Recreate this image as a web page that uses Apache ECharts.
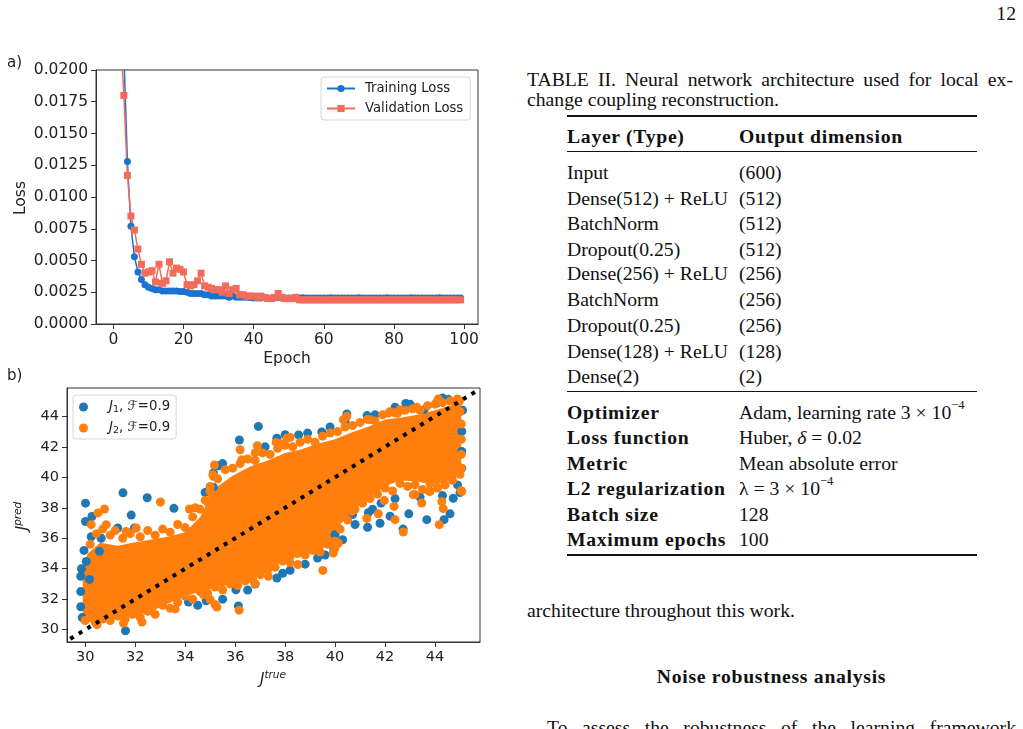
<!DOCTYPE html>
<html>
<head>
<meta charset="utf-8">
<script src="https://cdn.jsdelivr.net/npm/echarts@6.0.0/dist/echarts.min.js"></script>
<style>
  html, body { margin: 0; padding: 0; background: #fff; }
  body { width: 1023px; height: 729px; overflow: hidden; position: relative; }
  #chart { position: absolute; left: 0; top: 0; width: 500px; height: 729px; }
  .tx { position: absolute; font-family: 'Liberation Serif', serif; font-size: 19.7px; line-height: 20px; color: #111; white-space: nowrap; }
  .b { font-weight: bold; letter-spacing: 0.7px; }
  .just { text-align: justify; text-align-last: justify; }
  .rule { position: absolute; left: 567px; width: 410px; background: #111; }
  sup { font-size: 12.5px; line-height: 0; position: relative; top: -2px; }
</style>
</head>
<body>
<div id="chart"></div>

<div class="tx" style="right: 7px; top: 3px;">12</div>

<div class="tx just" style="left: 527px; top: 69px; width: 486px;">TABLE II. Neural network architecture used for local ex-</div>
<div class="tx" style="left: 527px; top: 89px;">change coupling reconstruction.</div>

<div class="rule" style="top: 115px; height: 2px;"></div>
<div class="tx b" style="left: 567px; top: 126px;">Layer (Type)</div>
<div class="tx b" style="left: 739px; top: 126px;">Output dimension</div>
<div class="rule" style="top: 151px; height: 1px;"></div>

<div class="tx" style="left: 567px; top: 162px;">Input</div>
<div class="tx" style="left: 739px; top: 162px;">(600)</div>
<div class="tx" style="left: 567px; top: 188px;">Dense(512) + ReLU</div>
<div class="tx" style="left: 739px; top: 188px;">(512)</div>
<div class="tx" style="left: 567px; top: 213px;">BatchNorm</div>
<div class="tx" style="left: 739px; top: 213px;">(512)</div>
<div class="tx" style="left: 567px; top: 239px;">Dropout(0.25)</div>
<div class="tx" style="left: 739px; top: 239px;">(512)</div>
<div class="tx" style="left: 567px; top: 263px;">Dense(256) + ReLU</div>
<div class="tx" style="left: 739px; top: 263px;">(256)</div>
<div class="tx" style="left: 567px; top: 289px;">BatchNorm</div>
<div class="tx" style="left: 739px; top: 289px;">(256)</div>
<div class="tx" style="left: 567px; top: 315px;">Dropout(0.25)</div>
<div class="tx" style="left: 739px; top: 315px;">(256)</div>
<div class="tx" style="left: 567px; top: 341px;">Dense(128) + ReLU</div>
<div class="tx" style="left: 739px; top: 341px;">(128)</div>
<div class="tx" style="left: 567px; top: 366px;">Dense(2)</div>
<div class="tx" style="left: 739px; top: 366px;">(2)</div>
<div class="rule" style="top: 391px; height: 1px;"></div>

<div class="tx b" style="left: 567px; top: 402px;">Optimizer</div>
<div class="tx" style="left: 739px; top: 402px;">Adam, learning rate 3 &times; 10<sup>&minus;4</sup></div>
<div class="tx b" style="left: 567px; top: 427px;">Loss function</div>
<div class="tx" style="left: 739px; top: 427px;">Huber, <i>&delta;</i> = 0.02</div>
<div class="tx b" style="left: 567px; top: 453px;">Metric</div>
<div class="tx" style="left: 739px; top: 453px;">Mean absolute error</div>
<div class="tx b" style="left: 567px; top: 478px;">L2 regularization</div>
<div class="tx" style="left: 739px; top: 478px;">&lambda; = 3 &times; 10<sup>&minus;4</sup></div>
<div class="tx b" style="left: 567px; top: 504px;">Batch size</div>
<div class="tx" style="left: 739px; top: 504px;">128</div>
<div class="tx b" style="left: 567px; top: 529px;">Maximum epochs</div>
<div class="tx" style="left: 739px; top: 529px;">100</div>
<div class="rule" style="top: 554px; height: 2px;"></div>

<div class="tx" style="left: 527px; top: 600px;">architecture throughout this work.</div>
<div class="tx b" style="left: 640px; top: 666px; width: 263px; text-align: center;">Noise robustness analysis</div>
<div class="tx just" style="left: 547px; top: 717px; width: 469px;">To assess the robustness of the learning framework</div>

<script>
// a) training history, epochs 0..99
const epochs = Array.from({ length: 100 }, (_, i) => i);
const trainLoss = [
  0.0850, 0.0480, 0.0310, 0.0212, 0.0128, 0.0077, 0.0053, 0.0041, 0.0035, 0.0031,
  0.0029, 0.0028, 0.0027, 0.0027, 0.0026, 0.0026, 0.0026, 0.0026, 0.0026, 0.00255,
  0.00255, 0.0025, 0.0024, 0.0024, 0.0024, 0.0024, 0.0023, 0.0023, 0.0022, 0.0022,
  0.0022, 0.0022, 0.0022, 0.0021, 0.0022, 0.0021, 0.0021, 0.0021, 0.0021, 0.00208,
  0.00205, 0.00205, 0.00205, 0.00206, 0.00205, 0.00205, 0.00205, 0.00206, 0.00205, 0.00205,
  0.00205, 0.00205, 0.00205, 0.00205, 0.00206, 0.00205, 0.00205, 0.00205, 0.00205, 0.00205,
  0.00205, 0.00205, 0.00206, 0.00205, 0.00205, 0.00205, 0.00205, 0.00205, 0.00205, 0.00205,
  0.00206, 0.00205, 0.00205, 0.00205, 0.00205, 0.00205, 0.00205, 0.00205, 0.00206, 0.00205,
  0.00205, 0.00205, 0.00205, 0.00205, 0.00205, 0.00206, 0.00205, 0.00205, 0.00205, 0.00205,
  0.00205, 0.00205, 0.00205, 0.00206, 0.00205, 0.00205, 0.00205, 0.00205, 0.00205, 0.00205,
];
const valLoss = [
  0.1200, 0.0450, 0.0228, 0.0180, 0.0117, 0.0085, 0.0074, 0.0059, 0.0047, 0.0040,
  0.0041, 0.0042, 0.0033, 0.0047, 0.0032, 0.0034, 0.0049, 0.0040, 0.0044, 0.0043,
  0.0041, 0.0031, 0.0030, 0.0031, 0.0034, 0.0040, 0.0030, 0.0029, 0.0028, 0.0027,
  0.0027, 0.0025, 0.0030, 0.0024, 0.0027, 0.0028, 0.0023, 0.0023, 0.0022, 0.0022,
  0.0022, 0.0021, 0.0022, 0.0021, 0.0020, 0.0020, 0.0021, 0.0024, 0.0021, 0.0020,
  0.0020, 0.0020, 0.0021, 0.0019, 0.0019, 0.0019, 0.0019, 0.0019, 0.0019, 0.0019,
  0.0019, 0.0019, 0.0019, 0.0019, 0.0019, 0.0019, 0.0019, 0.0019, 0.0019, 0.0019,
  0.0019, 0.0019, 0.0019, 0.0019, 0.0019, 0.0019, 0.0019, 0.0019, 0.0019, 0.0019,
  0.0019, 0.0019, 0.0019, 0.0019, 0.0019, 0.0019, 0.0019, 0.0019, 0.0019, 0.0019,
  0.0019, 0.0019, 0.0019, 0.0019, 0.0019, 0.0019, 0.0019, 0.0019, 0.0019, 0.0019,
];
const epochTicks = [0, 20, 40, 60, 80, 100];

// b) predicted vs true couplings
const jTicks = [30, 32, 34, 36, 38, 40, 42, 44];
const diagonal = [[29.4, 29.4], [45.6, 45.6]];

// outline of the dense orange cloud (upper edge and lower edge, left to right)
const cloudUpper = [
  [29.9, 34.2], [30.1, 35.0], [30.6, 35.7], [31.3, 35.5], [31.9, 35.7], [32.6, 35.9],
  [33.3, 36.1], [34.0, 36.4], [34.6, 37.4], [35.0, 38.7], [35.3, 39.4], [35.9, 40.1],
  [36.6, 40.7], [37.3, 41.1], [38.0, 41.6], [38.6, 41.8], [39.3, 42.2], [40.0, 42.5],
  [40.6, 42.9], [41.3, 43.3], [42.0, 43.8], [42.6, 43.9], [43.3, 44.1], [44.0, 44.4],
  [44.6, 44.7], [45.05, 44.8],
];
const cloudLower = [
  [29.9, 30.7], [30.6, 30.65], [31.3, 30.8], [31.9, 30.9], [32.6, 31.15], [33.3, 31.7],
  [34.0, 32.2], [34.6, 32.5], [35.3, 32.8], [35.9, 33.0], [36.6, 33.3], [37.3, 33.9],
  [38.0, 34.6], [38.6, 35.0], [39.3, 35.2], [40.0, 35.7], [40.1, 36.7], [40.7, 37.8],
  [41.3, 38.6], [42.0, 39.4], [42.6, 39.8], [43.3, 39.7], [44.0, 39.5], [44.6, 39.8],
  [45.05, 40.2],
];
const j1Points = [
  [30.01, 38.3], [30.01, 37.1], [30.27, 37.43], [31.51, 38.98], [32.48, 38.66], [31.84, 37.52],
  [33.55, 37.96], [31.61, 29.93], [30.24, 36.1], [30.64, 36.0], [31.3, 36.67], [31.97, 36.67],
  [30.04, 34.48], [30.17, 33.3], [30.57, 35.14], [29.88, 30.79],
  [29.82, 31.5], [29.82, 32.5], [29.82, 33.5], [29.85, 34.0], [29.95, 35.2],
  [35.13, 40.28], [35.33, 40.75], [35.13, 39.35], [36.17, 42.45], [36.93, 43.34], [37.67, 42.57],
  [38.0, 42.8], [38.54, 42.78], [39.47, 42.98], [40.47, 44.15], [41.28, 44.05], [42.83, 44.85],
  [44.53, 45.12], [44.07, 44.87], [43.56, 44.44],
  [34.8, 39.0], [35.5, 40.9], [37.2, 42.0], [38.9, 42.9], [39.8, 43.3], [40.4, 43.7],
  [41.6, 44.1], [42.4, 44.6], [43.0, 44.8], [44.3, 45.2], [45.1, 44.4],
  [36.13, 31.55], [34.13, 31.81], [34.84, 31.89], [36.03, 32.62], [37.67, 33.39], [38.2, 33.9],
  [39.3, 34.7], [39.95, 35.25], [40.0, 36.23], [36.8, 33.0],
  [34.5, 31.6], [35.5, 32.0], [36.5, 32.6], [37.9, 33.7], [38.8, 34.3], [39.6, 34.9],
  [40.3, 35.9], [40.8, 36.9], [41.5, 37.9], [42.4, 38.6], [43.4, 38.7], [44.3, 38.8],
  [44.6, 37.6], [45.0, 39.0],
  [41.3, 36.72], [41.8, 36.98], [42.72, 36.6], [42.95, 37.6], [43.67, 37.22], [44.36, 37.22],
  [44.73, 38.62], [44.9, 39.5], [40.7, 37.55], [41.84, 38.3], [42.2, 37.45], [41.33, 37.67],
  [45.07, 43.01], [45.07, 41.7], [45.07, 40.6],
];
const j2Points = [
  [33.01, 38.38], [30.77, 37.92], [30.51, 37.66], [30.24, 36.89], [30.84, 36.89], [34.17, 37.92],
  [34.4, 38.0], [31.64, 36.45], [32.04, 36.67], [35.08, 38.86], [35.11, 40.17], [35.17, 40.8],
  [35.13, 40.06], [36.2, 41.81], [36.27, 41.15], [36.8, 41.6], [36.89, 42.07], [37.64, 42.29],
  [38.07, 42.57], [38.2, 42.62], [37.8, 42.2], [40.33, 43.78], [40.47, 44.0], [41.4, 43.78],
  [42.13, 44.21], [42.4, 44.23], [42.6, 44.43], [43.27, 44.6], [44.09, 44.98], [44.13, 45.14],
  [44.9, 45.14], [44.97, 44.98],
  [45.07, 39.08], [45.04, 39.12], [44.17, 36.89], [42.73, 36.41], [42.4, 37.22], [42.36, 38.09],
  [43.13, 38.86], [43.2, 38.86], [43.8, 39.08], [43.77, 39.08], [43.47, 38.31], [44.33, 37.94],
  [44.27, 38.4], [41.73, 37.6], [41.27, 37.3], [41.97, 38.47], [40.67, 37.77], [40.13, 35.69],
  [39.93, 35.03], [40.0, 35.36], [39.51, 33.89], [38.51, 34.27], [38.2, 34.8], [37.33, 33.5],
  [36.8, 33.02], [36.16, 31.28], [35.27, 31.49], [35.2, 31.64], [35.0, 31.97], [34.73, 32.3],
  [34.6, 32.52], [34.17, 33.06], [33.6, 31.36], [33.0, 31.86], [32.27, 30.5], [31.53, 30.43],
  [30.47, 30.33], [31.0, 31.31], [34.93, 38.3], [35.0, 39.08],
];
// orange dots sitting on the ragged rim of the cloud
const j2Rim = [
  [30.2, 35.6], [30.45, 36.3], [30.7, 36.6], [31.0, 36.2], [31.2, 36.5], [31.5, 36.0],
  [31.8, 36.3], [32.2, 36.1], [32.5, 36.5], [32.8, 36.2], [33.1, 36.6], [33.4, 36.4],
  [33.7, 36.9], [34.0, 36.7], [34.3, 37.4], [34.6, 37.9], [34.8, 38.5], [35.0, 39.4],
  [35.3, 39.9], [35.6, 40.5], [35.9, 40.6], [36.2, 40.9], [36.5, 41.2], [36.8, 41.1],
  [37.1, 41.6], [37.4, 41.5], [37.7, 41.9], [38.0, 42.1], [38.3, 42.0], [38.6, 42.3],
  [38.9, 42.5], [39.2, 42.3], [39.5, 42.7], [39.8, 42.9], [40.1, 43.0], [40.4, 43.3],
  [40.7, 43.4], [41.0, 43.6], [41.3, 43.8], [41.6, 43.7], [41.9, 44.1], [42.2, 44.3],
  [42.5, 44.2], [42.8, 44.4], [43.1, 44.5], [43.4, 44.4], [43.7, 44.7], [44.0, 44.8],
  [44.3, 44.9], [44.6, 45.0], [44.85, 44.7], [45.0, 44.3], [45.05, 43.5], [45.05, 42.5],
  [45.05, 41.5], [45.05, 40.6],
  [30.0, 30.6], [30.2, 30.8], [30.4, 30.5], [30.7, 30.7], [31.0, 30.6], [31.3, 30.9],
  [31.6, 30.7], [31.9, 31.0], [32.2, 30.8], [32.5, 31.2], [32.8, 31.0], [33.1, 31.6],
  [33.4, 31.4], [33.7, 31.8], [34.0, 32.2], [34.3, 32.0], [34.6, 32.5], [34.9, 32.4],
  [35.2, 32.8], [35.5, 32.6], [35.8, 33.0], [36.1, 32.9], [36.4, 33.2], [36.7, 33.3],
  [37.0, 33.6], [37.3, 33.9], [37.6, 34.1], [37.9, 34.5], [38.2, 34.4], [38.5, 35.0],
  [38.8, 34.9], [39.1, 35.2], [39.4, 35.1], [39.7, 35.6], [40.0, 35.8], [40.2, 36.6],
  [40.5, 37.2], [40.8, 37.9], [41.1, 38.3], [41.4, 38.6], [41.7, 38.9], [42.0, 39.3],
  [42.3, 39.1], [42.6, 39.6], [42.9, 39.4], [43.2, 39.5], [43.5, 39.2], [43.8, 39.6],
  [44.1, 39.3], [44.4, 39.5], [44.7, 39.8], [45.0, 40.2],
];

const lossBlue = '#1874d0';
const lossRed = '#f46b5c';
const tabBlue = '#1f77b4';
const tabOrange = '#ff7f0e';
const ink = '#222';
const font = 'DejaVu Sans';

const chart = echarts.init(document.getElementById('chart'), null, { renderer: 'canvas' });

function boxAxis(extra) {
  return {
    type: 'value',
    scale: true,
    axisLine: { show: true, onZero: false, lineStyle: { color: '#333', width: 1 } },
    splitLine: { show: false },
    ...extra,
  };
}

const legendBox = {
  orient: 'vertical',
  backgroundColor: 'rgba(255,255,255,0.8)',
  borderColor: '#d6d6d6',
  borderWidth: 1,
  borderRadius: 3,
};

// mathtext-like pieces for the J legend: italic J, lowered subscript, script F
const mathRich = {
  g: { width: 7 },
  i: { fontStyle: 'italic', fontSize: 13.3, color: ink },
  s: { fontSize: 9.5, color: ink, verticalAlign: 'top', padding: [6, 0, 0, 0] },
};

const option = {
  animation: false,
  textStyle: { fontFamily: font },
  grid: [
    { left: 96, top: 70, width: 382, height: 254, show: true, borderColor: '#333', borderWidth: 1 },
    { left: 67, top: 388, width: 413, height: 254, show: true, borderColor: '#333', borderWidth: 1 },
  ],
  xAxis: [
    boxAxis({
      gridIndex: 0, min: -4.95, max: 103.95,
      axisTick: { show: true, length: 5, lineStyle: { color: '#333' }, customValues: epochTicks },
      axisLabel: { customValues: epochTicks, fontSize: 15.5, color: ink, margin: 8 },
    }),
    boxAxis({
      gridIndex: 1, min: 29.27, max: 45.8,
      axisTick: { show: true, length: 5, lineStyle: { color: '#333' }, customValues: jTicks },
      axisLabel: { customValues: jTicks, fontSize: 14.5, color: ink, margin: 8 },
    }),
  ],
  yAxis: [
    boxAxis({
      gridIndex: 0, min: 0, max: 0.02, interval: 0.0025,
      axisTick: { show: true, length: 5, lineStyle: { color: '#333' } },
      axisLabel: { fontSize: 15.5, color: ink, margin: 8, formatter: (v) => v.toFixed(4) },
    }),
    boxAxis({
      gridIndex: 1, min: 29.19, max: 45.86,
      axisTick: { show: true, length: 5, lineStyle: { color: '#333' }, customValues: jTicks },
      axisLabel: { customValues: jTicks, fontSize: 14.5, color: ink, margin: 8 },
    }),
  ],
  legend: [
    {
      ...legendBox,
      data: ['Training Loss', 'Validation Loss'],
      left: 321, top: 77,
      padding: [4, 7, 4, 5], itemGap: 5, itemWidth: 28, itemHeight: 9,
      formatter: (name) => `{g|}${name}`,
      textStyle: { fontSize: 13.2, color: ink, lineHeight: 15, rich: { g: { width: 5 } } },
    },
    {
      ...legendBox,
      data: ['J1', 'J2'],
      left: 73, top: 395,
      padding: [4, 6, 3, 6], itemGap: 5, itemWidth: 27, itemHeight: 9, icon: 'circle',
      formatter: (name) => `{g|}{i|J}{s|${name.slice(1)}}, {i|\u2131}=0.9`,
      textStyle: { fontSize: 13.3, color: ink, lineHeight: 16, rich: mathRich },
    },
  ],
  graphic: [
    { type: 'text', left: 7, top: 56, style: { text: 'a)', font: '15px DejaVu Sans', fill: ink } },
    { type: 'text', left: 7, top: 369, style: { text: 'b)', font: '15px DejaVu Sans', fill: ink } },
    {
      type: 'text', x: 21, y: 198, rotation: Math.PI / 2,
      style: { text: 'Loss', font: '15.5px DejaVu Sans', fill: ink, align: 'center', verticalAlign: 'middle' },
    },
    {
      type: 'text', x: 287, y: 359,
      style: { text: 'Epoch', font: '15.5px DejaVu Sans', fill: ink, align: 'center', verticalAlign: 'middle' },
    },
    {
      type: 'text', x: 22, y: 516, rotation: Math.PI / 2,
      style: {
        text: '{j|J}{s|pred}', align: 'center', verticalAlign: 'middle',
        rich: {
          j: { fontFamily: font, fontStyle: 'italic', fontSize: 15, fill: ink, verticalAlign: 'bottom' },
          s: { fontFamily: font, fontStyle: 'italic', fontSize: 10.5, fill: ink, verticalAlign: 'bottom', padding: [0, 0, 7, 0] },
        },
      },
    },
    {
      type: 'text', x: 273, y: 679,
      style: {
        text: '{j|J}{s|true}', align: 'center', verticalAlign: 'middle',
        rich: {
          j: { fontFamily: font, fontStyle: 'italic', fontSize: 15, fill: ink, verticalAlign: 'bottom' },
          s: { fontFamily: font, fontStyle: 'italic', fontSize: 10.5, fill: ink, verticalAlign: 'bottom', padding: [0, 0, 7, 0] },
        },
      },
    },
  ],
  series: [
    {
      name: 'Training Loss', type: 'line', xAxisIndex: 0, yAxisIndex: 0,
      data: epochs.map((e, i) => [e, trainLoss[i]]),
      symbol: 'circle', symbolSize: 7, showAllSymbol: true,
      lineStyle: { color: lossBlue, width: 1.5 }, itemStyle: { color: lossBlue },
      emphasis: { disabled: true },
    },
    {
      name: 'Validation Loss', type: 'line', xAxisIndex: 0, yAxisIndex: 0,
      data: epochs.map((e, i) => [e, valLoss[i]]),
      symbol: 'rect', symbolSize: 7, showAllSymbol: true,
      lineStyle: { color: lossRed, width: 1.5 }, itemStyle: { color: lossRed },
      emphasis: { disabled: true },
    },
    {
      name: 'J1', type: 'scatter', xAxisIndex: 1, yAxisIndex: 1,
      data: j1Points, symbolSize: 9, itemStyle: { color: tabBlue, opacity: 1 },
      emphasis: { disabled: true },
    },
    {
      name: 'cloud', type: 'custom', xAxisIndex: 1, yAxisIndex: 1, silent: true,
      data: [cloudUpper[0]],
      renderItem: (params, api) => {
        const pts = cloudUpper.map((p) => api.coord(p))
          .concat(cloudLower.slice().reverse().map((p) => api.coord(p)));
        return {
          type: 'polygon',
          shape: { points: pts },
          style: { fill: tabOrange },
        };
      },
    },
    {
      name: 'J2', type: 'scatter', xAxisIndex: 1, yAxisIndex: 1,
      data: j2Points, symbolSize: 9, itemStyle: { color: tabOrange, opacity: 1 },
      emphasis: { disabled: true },
    },
    {
      name: 'J2 rim', type: 'scatter', xAxisIndex: 1, yAxisIndex: 1,
      data: j2Rim, symbolSize: 9, itemStyle: { color: tabOrange, opacity: 1 },
      emphasis: { disabled: true }, silent: true,
    },
    {
      name: 'diag', type: 'line', xAxisIndex: 1, yAxisIndex: 1,
      data: diagonal, symbol: 'none', silent: true,
      lineStyle: { color: '#000', width: 4, type: [4, 6], cap: 'butt' },
    },
  ],
};

chart.setOption(option);
</script>
</body>
</html>
